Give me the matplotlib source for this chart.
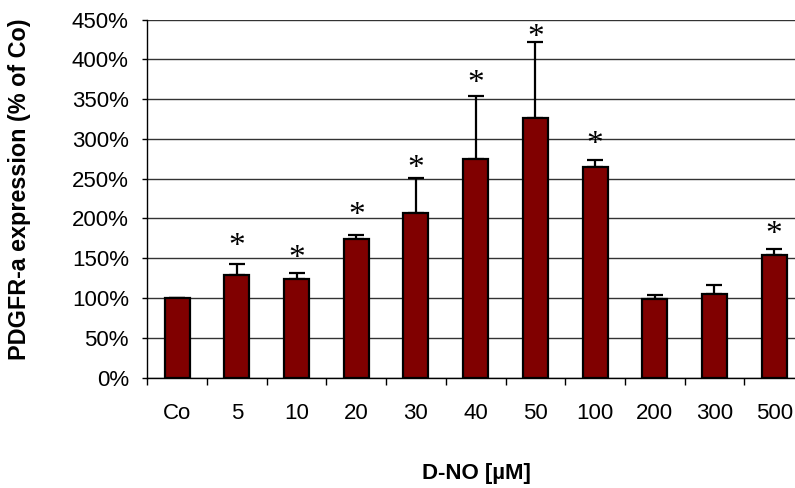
import numpy as np
import matplotlib
matplotlib.use('Agg')
import matplotlib.pyplot as plt

categories = ['Co', '5', '10', '20', '30', '40', '50', '100', '200', '300', '500']
values = [100, 129, 124, 174, 207, 275, 326, 265, 98.5, 105, 154]
errors = [0, 14, 7, 5, 44, 79, 96, 9, 5, 11, 8]
# asterisk heights (in % units), None where no asterisk
stars = [None, 172, 157, 211, 270, 376, 434, 300, None, None, 186]
yticks = list(range(0, 451, 50))

plt.rcParams['font.family'] = ['Liberation Sans', 'DejaVu Sans']

fig = plt.figure(figsize=(7.95, 4.88), dpi=100)
ax = fig.add_axes([147.3 / 795, 1 - 377.7 / 488, 656.7 / 795, 358.2 / 488])

x = np.arange(len(categories))
ax.bar(x, values, width=0.42, color='#800000', edgecolor='black',
       linewidth=1.6, zorder=3)
lower = np.zeros(len(errors))
ax.errorbar(x, values, yerr=[lower, errors], fmt='none', ecolor='black',
            elinewidth=1.6, capsize=6, capthick=1.6, zorder=2)

for xi, s in zip(x, stars):
    if s is not None:
        ax.annotate('*', (xi, s), xytext=(0, -4), textcoords='offset points',
                    ha='center', va='center', fontsize=24,
                    family='Liberation Serif', zorder=4)

ax.set_xlim(-0.5, len(categories) - 0.5)
ax.set_ylim(0, 450)
ax.set_yticks(yticks)
ax.set_yticklabels([f'{v}%' for v in yticks])
ax.set_xticks(x)
ax.set_xticklabels(categories)
ax.set_xticks(np.arange(len(categories) + 1) - 0.5, minor=True)
ax.tick_params(axis='x', which='major', length=0, pad=18.5, labelsize=16)
ax.tick_params(axis='x', which='minor', length=5, width=1, direction='out')
ax.tick_params(axis='y', length=3.6, width=1, pad=9.7, labelsize=16)
ax.yaxis.grid(True, color='#333333', linewidth=1, zorder=0)
ax.set_axisbelow(True)
for side in ('top', 'right'):
    ax.spines[side].set_visible(False)
for side in ('left', 'bottom'):
    ax.spines[side].set_linewidth(1)
    ax.spines[side].set_zorder(5)

fig.text(20 / 795, 1 - 189 / 488, 'PDGFR-a expression (% of Co)', rotation=90,
         ha='center', va='center', fontsize=16.8, fontweight='bold')
fig.text(476 / 795, 1 - 473 / 488, 'D-NO [µM]', ha='center', va='center',
         fontsize=16, fontweight='bold')

fig.savefig('out.png', dpi=100)
